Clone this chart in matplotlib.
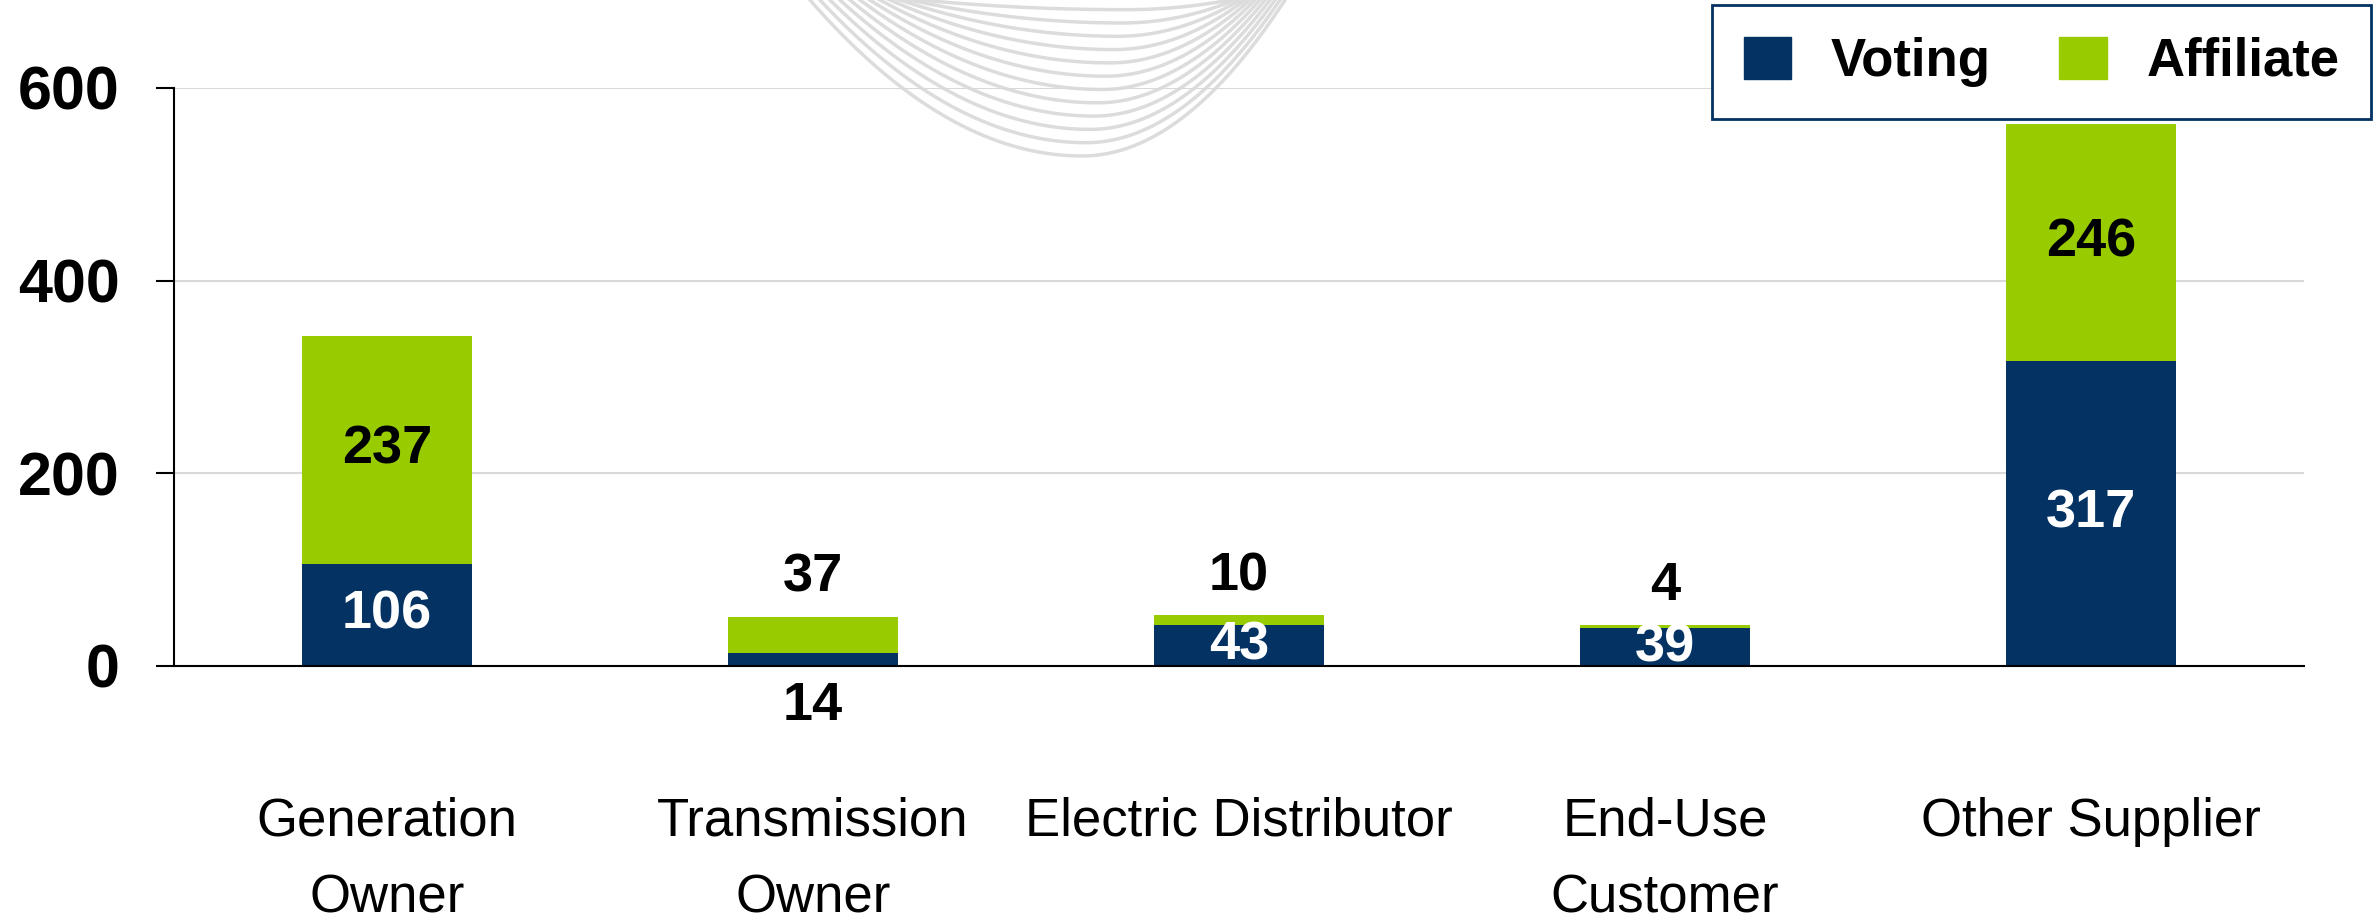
import numpy as np
import matplotlib.pyplot as plt
from matplotlib.patches import Patch

categories = ['Generation\nOwner', 'Transmission\nOwner', 'Electric Distributor',
              'End-Use\nCustomer', 'Other Supplier']
voting = [106, 14, 43, 39, 317]
affiliate = [237, 37, 10, 4, 246]
yticks = [0, 200, 400, 600]

navy = '#033263'
green = '#99cc00'

plt.rcParams['font.family'] = ['Liberation Sans', 'DejaVu Sans']

W, H = 2374, 924
fig = plt.figure(figsize=(W / 100, H / 100), dpi=100)

# faint swoosh decoration behind the chart (pixel space, y down)
bg = fig.add_axes([0, 0, 1, 1], zorder=0)
bg.set_xlim(0, W)
bg.set_ylim(H, 0)
bg.axis('off')
for k in range(12):
    d = 156 - 13.3 * k
    x0 = 810 + 10 * k
    x1 = 1285 - 5 * k
    xm = 1082 + 4 * k
    xl = np.linspace(x0 - 0.25 * (xm - x0), xm, 80)
    xr = np.linspace(xm, x1 + 0.25 * (x1 - xm), 80)
    yl = d * (1 - ((xl - xm) / (xm - x0)) ** 2)
    yr = d * (1 - ((xr - xm) / (x1 - xm)) ** 2)
    bg.plot(np.r_[xl, xr], np.r_[yl, yr], color='#dcdcdc', lw=2.5)

ax = fig.add_axes([174 / W, 1 - 666 / H, 2130 / W, 578 / H], zorder=1)
ax.set_facecolor('none')

x = np.arange(len(categories))
width = 0.4
ax.bar(x, voting, width, color=navy, zorder=2)
ax.bar(x, affiliate, width, bottom=voting, color=green, zorder=2)

# value labels
for i in range(len(categories)):
    v = voting[i]
    a = affiliate[i]
    if v < 20:
        ax.annotate(str(v), (i, 0), xytext=(0, -29), textcoords='offset points',
                    ha='center', va='center', fontsize=39, fontweight='bold', color='black')
    else:
        ax.text(i, v / 2, str(v), ha='center', va='center',
                fontsize=39, fontweight='bold', color='white', zorder=3)
    if a < 50:
        ax.annotate(str(a), (i, v + a), xytext=(0, 28), textcoords='offset points',
                    ha='center', va='center', fontsize=39, fontweight='bold', color='black')
    else:
        ax.text(i, v + a / 2, str(a), ha='center', va='center',
                fontsize=39, fontweight='bold', color='black', zorder=3)

ax.set_xlim(-0.5, len(categories) - 0.5)
ax.set_ylim(0, 600)
ax.set_yticks(yticks)
ax.set_yticklabels([str(t) for t in yticks], fontsize=44, fontweight='bold')
ax.set_xticks(x)
ax.set_xticklabels(categories, fontsize=38, linespacing=1.7)
ax.tick_params(axis='x', length=0, pad=94)
ax.tick_params(axis='y', length=13, width=1.5, pad=26)

ax.yaxis.grid(True, color='#d9d9d9', lw=1.5, zorder=0)
ax.set_axisbelow(True)
for s in ['top', 'right']:
    ax.spines[s].set_visible(False)
ax.spines['left'].set_linewidth(1.5)
ax.spines['bottom'].set_linewidth(1.5)

handles = [Patch(color=navy, label='Voting'), Patch(color=green, label='Affiliate')]
leg = fig.legend(handles=handles, loc='upper right', bbox_to_anchor=(2371 / W, 1 - 5 / H),
                 borderaxespad=0, ncol=2, prop={'size': 38, 'weight': 'bold'},
                 frameon=True, fancybox=False,
                 handlelength=0.9, handleheight=0.85, handletextpad=0.75,
                 columnspacing=1.3, borderpad=0.6, framealpha=1)
leg.get_frame().set_edgecolor(navy)
leg.get_frame().set_linewidth(2)

fig.savefig('out.png', dpi=100)
